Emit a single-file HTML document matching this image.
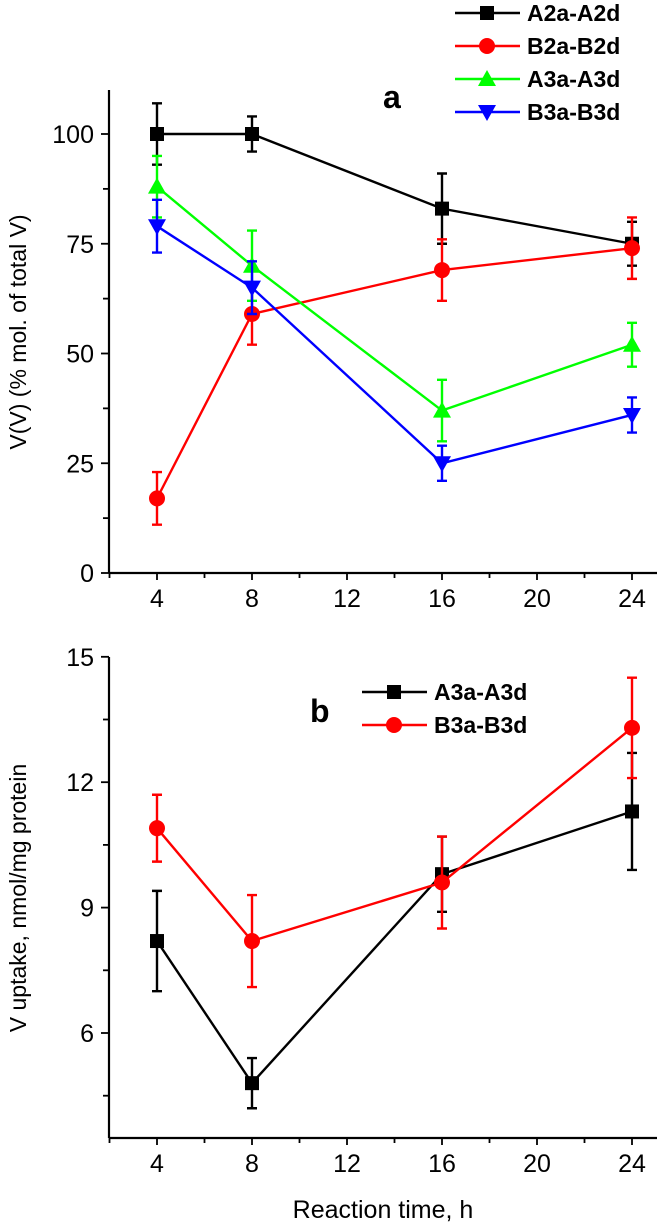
<!DOCTYPE html>
<html><head><meta charset="utf-8"><style>
html,body{margin:0;padding:0;background:#fff;}
svg{display:block;font-family:"Liberation Sans",Arial,sans-serif;}
</style></head><body>
<svg id="c" width="658" height="1225" viewBox="0 0 658 1225">
<text x="20" y="332" font-size="23" text-anchor="middle" transform="rotate(-90 20 332)" dominant-baseline="middle">V(V) (% mol. of total V)</text>
<text x="20" y="898" font-size="23" text-anchor="middle" transform="rotate(-90 20 898)" dominant-baseline="middle">V uptake, nmol/mg protein</text>
<text x="383" y="108" font-size="32" font-weight="bold">a</text>
<text x="310" y="722" font-size="32" font-weight="bold">b</text>
<text x="383" y="1218" font-size="25" text-anchor="middle">Reaction time, h</text>
</svg>
<script>
const xTimes=[4,8,16,24];
const xTicks=[4,8,12,16,20,24];
const topYTicks=[0,25,50,75,100];
const botYTicks=[6,9,12,15];
const a2Val=[100,100,83,75], a2Err=[7,4,8,5];
const b2Val=[17,59,69,74], b2Err=[6,7,7,7];
const a3Val=[88,70,37,52], a3Err=[7,8,7,5];
const b3Val=[79,65,25,36], b3Err=[6,6,4,4];
const bA3Val=[8.2,4.8,9.8,11.3], bA3Err=[1.2,0.6,0.9,1.4];
const bB3Val=[10.9,8.2,9.6,13.3], bB3Err=[0.8,1.1,1.1,1.2];
const topNames=['A2a-A2d','B2a-B2d','A3a-A3d','B3a-B3d'];
const botNames=['A3a-A3d','B3a-B3d'];

const svg=document.getElementById('c');
const NS='http://www.w3.org/2000/svg';
function mk(t,a,p){const e=document.createElementNS(NS,t);for(const k in a)e.setAttribute(k,a[k]);(p||svg).appendChild(e);return e;}
const X0=109, X1=657;
function xs(v){return 157+(v-4)*23.75;}
function yTop(v){return 573-v*4.39;}
function yBot(v){return 1033-(v-6)*41.8;}

function axes(name,yf,ticks,minorStep,yMin,yMax,xAxisY,yTopPix){
  const g=mk('g',{});
  
  
  mk('line',{x1:X0,y1:yTopPix,x2:X0,y2:xAxisY,stroke:'#000','stroke-width':2.2},g);
  mk('line',{x1:X0,y1:xAxisY,x2:X1,y2:xAxisY,stroke:'#000','stroke-width':2.2},g);
  for(let v=2;v<=24;v+=2){const major=xTicks.includes(v);
    mk('line',{x1:xs(v),y1:xAxisY,x2:xs(v),y2:xAxisY+(major?7:5),stroke:'#000','stroke-width':1.8},g);}
  xTicks.forEach(v=>{const t=mk('text',{x:xs(v),y:xAxisY+34,'font-size':25,'text-anchor':'middle'},g);t.textContent=v;
    });
  for(let v=yMin;v<=yMax+1e-6;v+=minorStep){const major=ticks.some(t=>Math.abs(t-v)<1e-6);
    mk('line',{x1:X0,y1:yf(v),x2:X0-(major?8:6),y2:yf(v),stroke:'#000','stroke-width':1.8},g);}
  ticks.forEach(v=>{const t=mk('text',{x:X0-15,y:yf(v)+9,'font-size':25,'text-anchor':'end'},g);t.textContent=v;
    });
}
axes('top',yTop,topYTicks,12.5,0,100,573,90);
axes('bottom',yBot,botYTicks,1.5,4.5,15,1138,657);

function marker(shape,cx,cy,col,g,s){
  s=s||1;
  if(shape==='sq')return mk('rect',{x:cx-7*s,y:cy-7*s,width:14*s,height:14*s,fill:col},g);
  if(shape==='ci')return mk('circle',{cx:cx,cy:cy,r:8*s,fill:col},g);
  if(shape==='up')return mk('polygon',{points:`${cx},${cy-9*s} ${cx-9*s},${cy+7*s} ${cx+9*s},${cy+7*s}`,fill:col},g);
  return mk('polygon',{points:`${cx},${cy+9*s} ${cx-9*s},${cy-7*s} ${cx+9*s},${cy-7*s}`,fill:col},g);
}
function series(name,vals,errs,yf,col,shape){
  const g=mk('g',{});
  
  
  mk('polyline',{points:vals.map((v,i)=>xs(xTimes[i])+','+yf(v)).join(' '),fill:'none',stroke:col,'stroke-width':2.4},g);
  vals.forEach((v,i)=>{const x=xs(xTimes[i]);const y1=yf(v+errs[i]),y2=yf(v-errs[i]);
    const e=mk('path',{d:`M${x},${y1}V${y2}M${x-5},${y1}H${x+5}M${x-5},${y2}H${x+5}`,stroke:col,'stroke-width':2.4,fill:'none'},g);
    
    const m=marker(shape,x,yf(v),col,g);
    });
}
series('a2-series',a2Val,a2Err,yTop,'#000','sq');
series('b2-series',b2Val,b2Err,yTop,'#f00','ci');
series('a3-series',a3Val,a3Err,yTop,'#0f0','up');
series('b3-series',b3Val,b3Err,yTop,'#00f','dn');
series('bottom-a3-series',bA3Val,bA3Err,yBot,'#000','sq');
series('bottom-b3-series',bB3Val,bB3Err,yBot,'#f00','ci');

function legend(names,cols,shapes,x,y0,dy,pre){
  names.forEach((n,i)=>{const y=y0+i*dy;const g=mk('g',{});
    
    
    mk('line',{x1:x,y1:y,x2:x+65,y2:y,stroke:cols[i],'stroke-width':2.4},g);
    marker(shapes[i],x+32,y,cols[i],g);
    const t=mk('text',{x:x+72,y:y+8,'font-size':23,'font-weight':'bold'},g);t.textContent=n;});
}
legend(topNames,['#000','#f00','#0f0','#00f'],['sq','ci','up','dn'],455,13,33,'top');
legend(botNames,['#000','#f00'],['sq','ci'],362,692,33,'bottom');
</script>
</body></html>
